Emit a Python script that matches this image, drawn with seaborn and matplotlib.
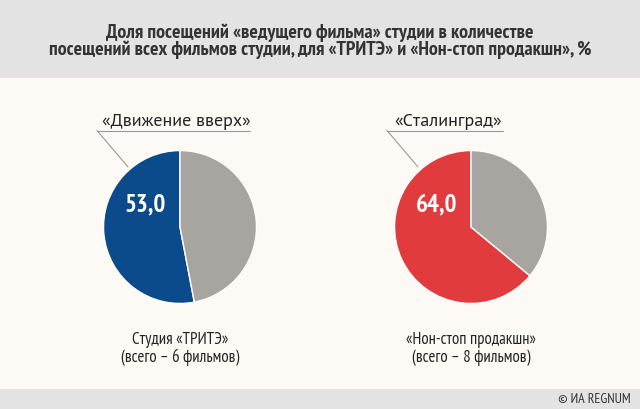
import matplotlib
matplotlib.use("Agg")
import matplotlib.pyplot as plt
import seaborn as sns

sns.set_style("white")
plt.rcParams['font.family'] = ['PT Sans Narrow', 'DejaVu Sans']

title = "Доля посещений «ведущего фильма» студии в количестве\nпосещений всех фильмов студии, для «ТРИТЭ» и «Нон-стоп продакшн», %"
studios = ["Студия «ТРИТЭ»\n(всего – 6 фильмов)", "«Нон-стоп продакшн»\n(всего – 8 фильмов)"]
films = ["«Движение вверх»", "«Сталинград»"]
shares = [53.0, 64.0]
colors = ["#0B4A8B", "#E23B3E"]
rest_color = "#A8A49F"

fig = plt.figure(figsize=(6.4, 4.1), dpi=100)
fig.patch.set_facecolor("#FDF9F5")

bg = fig.add_axes([0, 0, 1, 1])
bg.set_xlim(0, 640)
bg.set_ylim(410, 0)
bg.axis("off")
bg.add_patch(plt.Rectangle((0, 0), 640, 79, color="#E3E3E3", lw=0))
bg.add_patch(plt.Rectangle((0, 390), 640, 20, color="#E3E3E3", lw=0))
bg.text(320, 41, title, ha="center", va="center", fontsize=14.3, fontweight="bold",
        color="#333333", linespacing=0.92)
bg.text(631, 400, "© ИА REGNUM", ha="right", va="center", fontsize=10, color="#333333")

centers = [180, 471]
r = 78
cy = 228
lines = [(97, 250), (387, 503)]
for i, cx in enumerate(centers):
    ax = fig.add_axes([(cx - r) / 640, (410 - cy - r) / 410, 2 * r / 640, 2 * r / 410])
    ax.pie([shares[i], 100 - shares[i]], colors=[colors[i], rest_color], startangle=90,
           counterclock=True, wedgeprops=dict(edgecolor="white", linewidth=1))
    ax.set_xlim(-1.02, 1.02)
    ax.set_ylim(-1.02, 1.02)
    ax.set_aspect("equal")
    ax.text(-0.45, 0.3, f"{shares[i]:.1f}".replace(".", ","), ha="center", va="center",
            fontsize=18, fontweight="bold", color="white")

    x0, x1 = lines[i]
    bg.plot([x0, x1], [131.5, 131.5], color="#9A9A9A", lw=0.8)
    bg.plot([x0, x0 + 31], [131.5, 168], color="#9A9A9A", lw=0.8)
    bg.text((x0 + x1) / 2 + 3, 130, films[i], ha="center", va="bottom", fontsize=13,
            color="#222222", family=["PT Sans", "DejaVu Sans"])
    bg.text(cx, 349, studios[i], ha="center", va="center", fontsize=12,
            color="#222222", linespacing=1.05)

fig.savefig("out.png", dpi=100, facecolor=fig.get_facecolor())
